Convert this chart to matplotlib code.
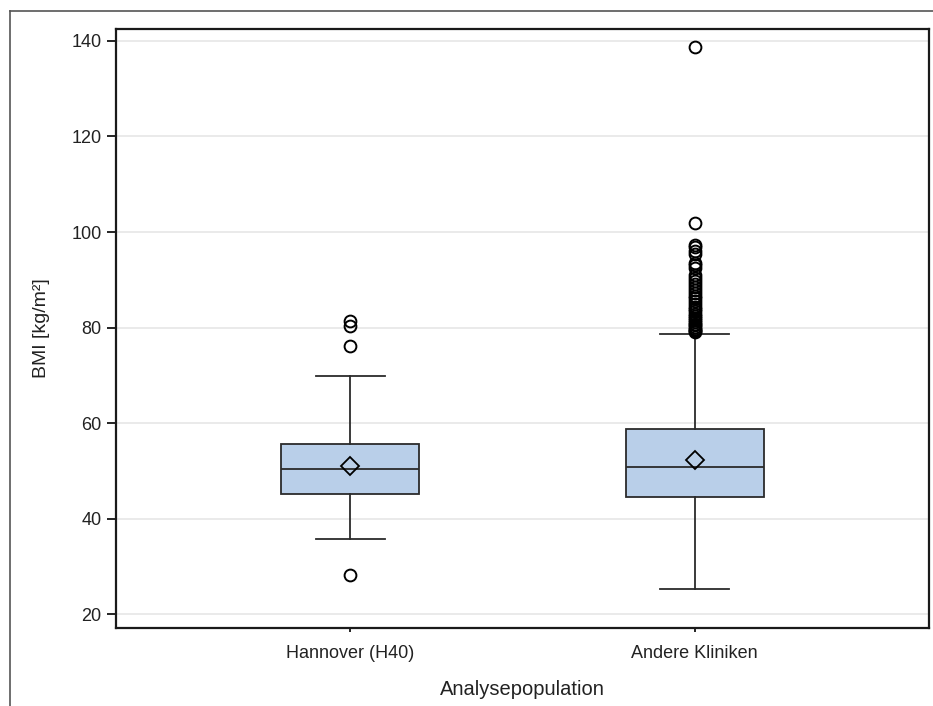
"""Boxplot BMI by analysis population."""

import matplotlib
matplotlib.use('Agg')
import matplotlib.pyplot as plt
from matplotlib.lines import Line2D

plt.rcParams['font.family'] = ['Liberation Sans', 'DejaVu Sans']

groups = ['Hannover (H40)', 'Andere Kliniken']
q1 = [45.1, 44.6]
median = [50.3, 50.8]
q3 = [55.6, 58.7]
mean = [51.1, 52.2]
whisker_low = [35.7, 25.2]
whisker_high = [69.8, 78.7]
outliers_h40 = [81.4, 80.4, 76.2, 28.2]
outliers_andere = [138.8, 101.8, 97.3, 96.8, 96.1, 95.5, 93.6, 93.1, 92.5,
                   91.0, 90.4, 89.8, 89.2, 88.5, 87.9, 87.3, 86.7, 86.1,
                   85.5, 84.9, 84.4, 83.9, 83.4, 82.9, 82.4, 82.0, 81.6,
                   81.2, 80.8, 80.5, 80.1, 79.8, 79.5, 79.2, 79.0]
outliers = [outliers_h40, outliers_andere]

stats = []
for i in range(len(groups)):
    stats.append({'label': groups[i], 'q1': q1[i], 'med': median[i],
                  'q3': q3[i], 'mean': mean[i], 'whislo': whisker_low[i],
                  'whishi': whisker_high[i], 'fliers': outliers[i]})

W, H = 933, 706
fig = plt.figure(figsize=(W / 100, H / 100), dpi=100)
ax = fig.add_axes([116 / W, 1 - 628 / H, (929 - 116) / W, (628 - 29) / H])

edge = '#2b2b2b'
ax.bxp(stats, positions=[1, 2], widths=0.4, patch_artist=True, showmeans=True,
       boxprops=dict(facecolor='#b9cfe9', edgecolor=edge, linewidth=1.3),
       medianprops=dict(color=edge, linewidth=1.3),
       whiskerprops=dict(color=edge, linewidth=1.3),
       capprops=dict(color=edge, linewidth=1.3),
       capwidths=0.2,
       meanprops=dict(marker='D', markersize=9, markerfacecolor='none',
                      markeredgecolor='black', markeredgewidth=1.3),
       flierprops=dict(marker='o', markersize=8.5, markerfacecolor='none',
                       markeredgecolor='black', markeredgewidth=1.4))

ax.set_xlim(0.32, 2.68)
ax.set_ylim(17.1, 142.5)
ax.set_yticks([20, 40, 60, 80, 100, 120, 140])
ax.yaxis.grid(True, color='#e8e8e8', linewidth=1.3)
ax.set_axisbelow(True)
ax.tick_params(axis='y', length=6.5, width=1.2, labelsize=13, pad=4, labelcolor='#222222')
ax.tick_params(axis='x', length=3, width=1.2, labelsize=13, pad=9, labelcolor='#222222')
for sp in ax.spines.values():
    sp.set_linewidth(1.6)
    sp.set_color('#1a1a1a')
ax.set_ylabel('BMI [kg/m²]', fontsize=14, labelpad=15, color='#222222')
ax.set_xlabel('Analysepopulation', fontsize=14.5, labelpad=13, color='#222222')

# outer frame lines
fig.add_artist(Line2D([10 / W, 10 / W], [0, 1 - 11 / H], transform=fig.transFigure,
                      color='#555555', linewidth=1.2))
fig.add_artist(Line2D([10 / W, 1], [1 - 11 / H, 1 - 11 / H], transform=fig.transFigure,
                      color='#555555', linewidth=1.2))

fig.savefig('out.png', dpi=100)
